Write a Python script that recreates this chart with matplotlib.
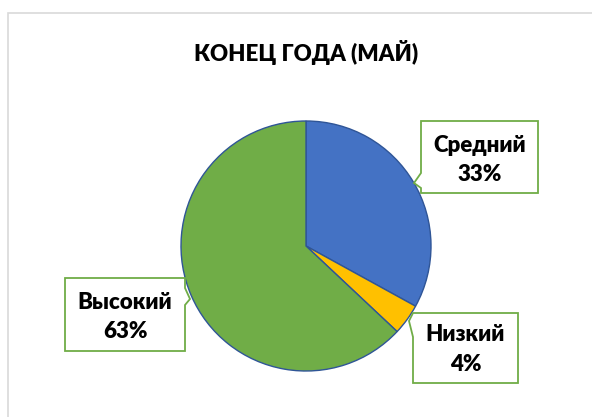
import matplotlib
matplotlib.use("Agg")
import matplotlib.pyplot as plt
from matplotlib.patches import Polygon, Rectangle

title = "КОНЕЦ ГОДА (МАЙ)"
categories = ["Средний", "Низкий", "Высокий"]
values = [33, 4, 63]
colors = ["#4472C4", "#FFC000", "#70AD47"]

W, H = 592, 417
fig = plt.figure(figsize=(W / 100, H / 100), dpi=100)
ax = fig.add_axes([0, 0, 1, 1])

def Y(y):
    return H - y

ax.pie(values, colors=colors, startangle=90, counterclock=False,
       center=(306, Y(246)), radius=125, frame=True,
       wedgeprops=dict(edgecolor="#2F5597", linewidth=1.0))
ax.set_xlim(0, W)
ax.set_ylim(0, H)
ax.set_aspect("equal")
ax.axis("off")

# outer chart frame
ax.add_patch(Rectangle((8, Y(13) - 500), 700, 500, fill=False,
                       edgecolor="#D9D9D9", linewidth=1.2))

ax.text(306, Y(52), title, ha="center", va="center", fontsize=16,
        fontweight="heavy", family=["Lato", "DejaVu Sans"], color="#000000")

# callout boxes (pixel coordinates of shapes)
boxes = [
    [(421, 121), (538, 121), (538, 193), (421, 193), (421, 188), (414, 183), (421, 173)],
    [(413, 313), (518, 313), (518, 383), (413, 383), (413, 337), (409, 321)],
    [(65, 278), (185, 278), (185, 288), (190, 299), (185, 305), (185, 351), (65, 351)],
]
centers = [(479.5, 160), (465.5, 349.5), (125, 317)]
for cat, val, poly, (cx, cy) in zip(categories, values, boxes, centers):
    pts = [(x, Y(y)) for x, y in poly]
    ax.add_patch(Polygon(pts, closed=True, facecolor="white",
                         edgecolor="#70AD47", linewidth=1.3, zorder=5))
    ax.text(cx, Y(cy), f"{cat}\n{val}%", ha="center", va="center",
            fontsize=16, fontweight="heavy", family=["Lato", "DejaVu Sans"],
            linespacing=1.5, zorder=6)

fig.savefig("out.png", dpi=100, facecolor="white")
